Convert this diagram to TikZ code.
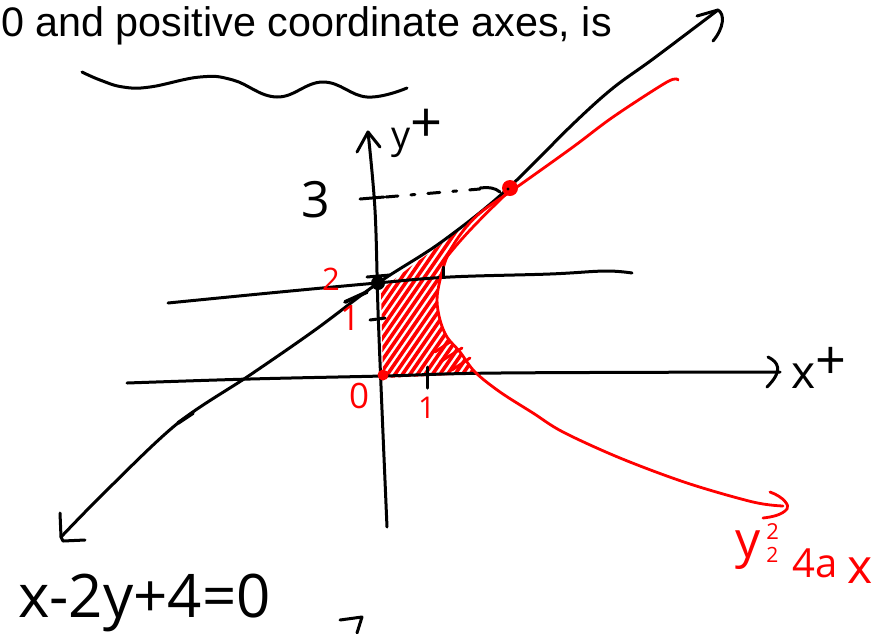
\documentclass[tikz,border=0pt]{standalone}
\usepackage{fontspec}
\setmainfont{Liberation Sans}
\newfontfamily\hand{Open Sans}
\begin{document}
\begin{tikzpicture}[x=1pt,y=-1pt,
  ink/.style={line width=3pt, line cap=round, line join=round},
  redink/.style={line width=2.8pt, line cap=round, line join=round, red},
  hatch/.style={line width=3.6pt, red, line cap=round},
  hl/.style={inner sep=0pt, anchor=base west, font=\hand\fontsize{#1}{#1}\selectfont},
  rl/.style={hl=#1, red}]
\useasboundingbox (0,0) rectangle (878,633);

% title text
\node[inner sep=0pt, anchor=base west, font=\fontsize{41.3}{48}\selectfont] (title) at (1,36) {0 and positive coordinate axes, is};

% wavy underline
\draw[ink] plot[smooth, tension=0.7] coordinates {(82,72) (100,80) (123,87) (150,87) (200,77) (233,80) (277,97) (323,82) (367,97) (407,88)};

% red hatching
\begin{scope}
  \clip (381,290) -- (410,267) -- (440,245) -- (470,222) -- (460,235) -- (447,257) -- (440,280) -- (437,300) -- (440,320) -- (447,337) -- (460,352) -- (476,374) -- (383,378) -- cycle;
  \foreach \k in {0,...,32} \draw[hatch] ({236+\k*7.5},420) -- ++(160,-232);
\end{scope}
\draw[redink] (435,352) -- (450,342) (440,362) -- (462,348) (452,370) -- (470,358);

% x axis
\coordinate (xs) at (127,383);
\coordinate (xe) at (780,372);
\draw[ink] plot[smooth, tension=0.6] coordinates {(xs) (250,379) (383,376) (500,373) (xe)};
\draw[ink] (768,357) .. controls (778,362) and (784,370) .. (767,387);

% y axis
\coordinate (ys) at (387,527);
\coordinate (ye) at (368,132);
\draw[ink] plot[smooth, tension=0.6] coordinates {(ys) (382,410) (378,310) (375,210) (ye)};
\draw[ink] (357,152) -- (ye) -- (380,147);

% horizontal line y = 2
\draw[ink] plot[smooth, tension=0.6] coordinates {(168,303) (280,292) (377,283) (450,277) (550,274) (605,271) (632,273)};

% line x-2y+4=0
\coordinate (la) at (61,537);
\coordinate (lb) at (718,10);
\draw[ink] plot[smooth, tension=0.55] coordinates {(la) (107,490) (178,423) (250,375) (315,330) (378,283) (440,243) (503,193) (573,124) (613,88) (653,59) (lb)};
\draw[ink] (60,513) -- (61,537) -- (63,541) -- (85,540);
\draw[ink] (697,16) -- (lb) .. controls (725,14) and (724,28) .. (713,41);
\draw[ink, line width=3.8pt] (178,423) -- (193,413);
\draw[ink, line width=3.8pt] (345,302) -- (367,292);

% parabola
\draw[redink] plot[smooth, tension=0.55] coordinates {(678,80) (667,82) (613,117) (573,147) (517,187) (480,213) (460,235) (447,257) (440,280) (437,300) (440,320) (447,337) (460,352) (475,372) (500,392) (533,413) (563,432) (620,458) (687,483) (753,502) (783,506)};
\draw[redink] (770,492) .. controls (784,497) and (790,506) .. (787,509) .. controls (782,515) and (772,517) .. (763,518);
\draw[redink] (446,258) .. controls (468,230) and (490,210) .. (510,190);

% ticks
\draw[ink] (360,199) -- (384,197);
\draw[ink] (367,277) -- (390,275);
\draw[ink] (370,320) -- (385,318);
\draw[ink] (427,367) -- (427,388);
\draw[ink] (443,267) -- (443,277);

% dashed guide
\draw[ink, dash pattern=on 12pt off 13pt on 4pt off 13pt] (386,197) -- (480,189);
\draw[ink] (480,188) .. controls (490,187) and (495,188) .. (500,192);

% points
\fill[red] (510,188) circle (8);
\fill[black] (508,189) circle (1.6);
\fill[black] (378,283) circle (7);
\fill[red] (383,375) circle (5.5);

% labels
\node[hl=50] (three) at (301,217) {3};
\node[hl=38] (ylab) at (391,148) {y\raisebox{6pt}{\fontsize{56}{56}\selectfont +}};
\node[hl=46] (xlab) at (791,388) {x\raisebox{9pt}{\fontsize{54}{54}\selectfont +}};
\node[rl=31] (two) at (322,290) {2};
\node[rl=35] (one) at (340,330) {1};
\node[rl=35] (zero) at (349,408) {0};
\node[rl=30] (xone) at (418,418) {1};
\node[hl=60] (lineeq) at (18,617) {x-2y+4=0};
\node[rl=50] (pareq) at (735,557) {y\hspace{6pt}\rlap{\raisebox{18pt}{\fontsize{22}{22}\selectfont 2}}\raisebox{-5pt}{\fontsize{21}{21}\selectfont 2}\hspace{14pt}\raisebox{-20pt}{\fontsize{40}{40}\selectfont 4a}\hspace{10pt}\raisebox{-26pt}{\fontsize{48}{48}\selectfont x}};

% small cut-off mark at bottom
\draw[ink] (340,620) -- (362,617) -- (357,633);
\end{tikzpicture}
\end{document}
